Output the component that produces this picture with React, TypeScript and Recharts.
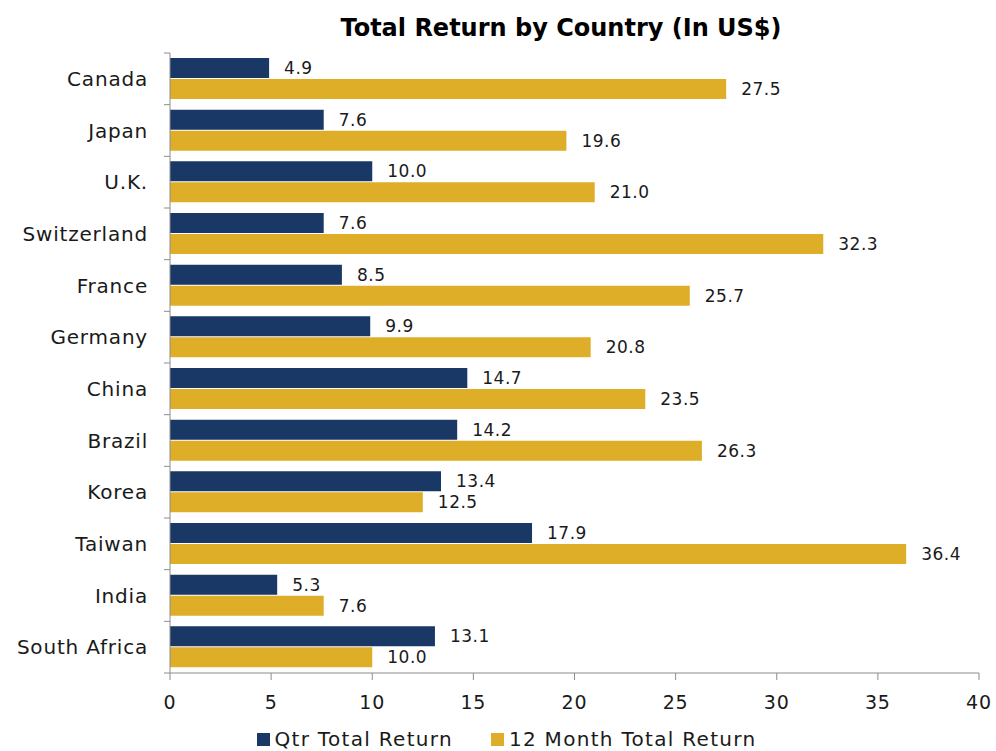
import React from "react";
import { BarChart, Bar, XAxis, YAxis, Legend, LabelList } from "recharts";

const countries = ["Canada", "Japan", "U.K.", "Switzerland", "France", "Germany", "China", "Brazil", "Korea", "Taiwan", "India", "South Africa"];
const qtrReturn = [4.9, 7.6, 10.0, 7.6, 8.5, 9.9, 14.7, 14.2, 13.4, 17.9, 5.3, 13.1];
const yearReturn = [27.5, 19.6, 21.0, 32.3, 25.7, 20.8, 23.5, 26.3, 12.5, 36.4, 7.6, 10.0];
const xTicks = [0, 5, 10, 15, 20, 25, 30, 35, 40];
const seriesNames = ["Qtr Total Return", "12 Month Total Return"];

const data = countries.map((c, i) => ({ country: c, qtr: qtrReturn[i], year: yearReturn[i] }));

const FONT = "'DejaVu Sans', sans-serif";
const NAVY = "#1A3866";
const GOLD = "#DEAE28";
const AXIS = "#8C8C8C";
const TEXT = "#1a1a1a";
const W = 996;
const H = 751;
const MT = 53;
const PLOT_H = 620;
const BAND = PLOT_H / countries.length;

const YTick = (props: any) => {
  const { x, y, payload, index } = props;
  return (
    <g>
      <text x={x - 22} y={y} dy={7} textAnchor="end" fontFamily={FONT} fontSize={20} letterSpacing={0.8} fill={TEXT}>
        {payload.value}
      </text>
      <line x1={x - 6} x2={x} y1={y - BAND / 2} y2={y - BAND / 2} stroke={AXIS} />
      {index === countries.length - 1 && (
        <line x1={x - 6} x2={x} y1={y + BAND / 2} y2={y + BAND / 2} stroke={AXIS} />
      )}
    </g>
  );
};

const fmt = (v: any) => Number(v).toFixed(1);

const LegendContent = () => {
  const colors = [NAVY, GOLD];
  return (
    <div style={{ display: "flex", justifyContent: "center", alignItems: "center", height: 24, paddingLeft: 34 }}>
      {seriesNames.map((n, i) => (
        <div key={n} style={{ display: "flex", alignItems: "center", marginRight: i === 0 ? 38 : 0 }}>
          <div style={{ width: 13, height: 13, background: colors[i], marginRight: 5 }} />
          <span style={{ fontFamily: FONT, fontSize: 20, lineHeight: "24px", letterSpacing: 1.3, color: TEXT }}>{n}</span>
        </div>
      ))}
    </div>
  );
};

export default function App() {
  return (
    <div style={{ position: "absolute", left: 0, top: 0, width: W, height: H }}>
      <div
        style={{
          position: "absolute",
          top: 14,
          left: 0,
          width: 1122,
          textAlign: "center",
          fontFamily: FONT,
          fontWeight: "bold",
          fontSize: 24,
          color: "#000",
          zIndex: 2,
        }}
      >
        Total Return by Country (In US$)
      </div>
      <BarChart
        width={W}
        height={H}
        data={data}
        layout="vertical"
        margin={{ top: MT, right: 17, left: 0, bottom: 14 }}
        barCategoryGap={11}
        barGap={1}
        barSize={20}
      >
        <XAxis
          type="number"
          domain={[0, 40]}
          ticks={xTicks}
          interval={0}
          stroke={AXIS}
          tickSize={7}
          tickMargin={16}
          height={40}
          tick={{ fontFamily: FONT, fontSize: 19, fill: TEXT, letterSpacing: 0.8 }}
        />
        <YAxis
          type="category"
          dataKey="country"
          width={170}
          stroke={AXIS}
          tickSize={0}
          tickMargin={0}
          tick={<YTick />}
          interval={0}
        />
        <Legend
          verticalAlign="bottom"
          height={24}
          content={<LegendContent />}
          wrapperStyle={{ bottom: 0 }}
        />
        <Bar dataKey="qtr" name={seriesNames[0]} fill={NAVY} isAnimationActive={false}>
          <LabelList dataKey="qtr" position="right" offset={15} formatter={fmt} style={{ fontFamily: FONT, fontSize: 17, fill: TEXT, letterSpacing: 0.5 }} />
        </Bar>
        <Bar dataKey="year" name={seriesNames[1]} fill={GOLD} isAnimationActive={false}>
          <LabelList dataKey="year" position="right" offset={15} formatter={fmt} style={{ fontFamily: FONT, fontSize: 17, fill: TEXT, letterSpacing: 0.5 }} />
        </Bar>
      </BarChart>
    </div>
  );
}
